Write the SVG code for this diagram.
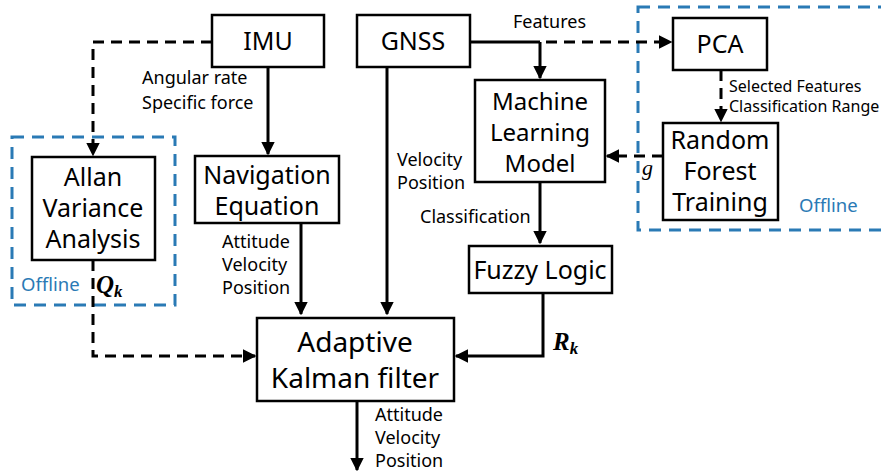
<svg xmlns="http://www.w3.org/2000/svg" width="881" height="473" viewBox="0 0 881 473">
<style>
.box{fill:#fff;stroke:#000;stroke-width:2.5}
.t{font-family:"Noto Sans","Open Sans",sans-serif;font-size:25px;fill:#000;text-anchor:middle}
.l{font-family:"Noto Sans","Open Sans",sans-serif;font-size:18px;fill:#000}
.off{font-family:"Noto Sans","Open Sans",sans-serif;font-size:18.5px;fill:#2a7ab5}
.m{font-family:"Liberation Serif","DejaVu Serif",serif;font-weight:bold;font-style:italic;font-size:25px;fill:#000}
.c{fill:none;stroke:#000;stroke-width:3}
.d{fill:none;stroke:#000;stroke-width:3;stroke-dasharray:11,7}
.b{fill:none;stroke:#2a7ab5;stroke-width:3;stroke-dasharray:12,8}
</style>
<defs>
<marker id="ah" viewBox="0 0 10 10" refX="9" refY="5" markerWidth="4.5" markerHeight="4.5" orient="auto" markerUnits="strokeWidth">
<path d="M0,0 L10,5 L0,10 z" fill="#000"/>
</marker>
</defs>
<rect width="881" height="473" fill="#fff"/>
<g id="offline-regions">
<rect class="b" x="12" y="137" width="163" height="168"/>
<rect class="b" x="638" y="7" width="260" height="223"/>
<text class="off" x="21" y="291">Offline</text>
<text class="off" x="799" y="212">Offline</text>
</g>
<g id="connectors">
<path class="d" d="M212,42 H93 V155" marker-end="url(#ah)"/>
<path class="c" d="M268,67 V154" marker-end="url(#ah)"/>
<path class="c" d="M301,223 V314" marker-end="url(#ah)"/>
<path class="c" d="M387,67 V314" marker-end="url(#ah)"/>
<path class="c" d="M470,42 H540"/>
<path class="c" d="M540,42 V78" marker-end="url(#ah)"/>
<path class="d" d="M546,42 H671" marker-end="url(#ah)"/>
<path class="d" d="M721,70 V121" marker-end="url(#ah)"/>
<path class="d" d="M663,156 H607" marker-end="url(#ah)"/>
<path class="c" d="M540,182 V243" marker-end="url(#ah)"/>
<path class="c" d="M543,293 V356 H456" marker-end="url(#ah)"/>
<path class="d" d="M93,260 V356 H255" marker-end="url(#ah)"/>
<path class="c" d="M357,401 V470" marker-end="url(#ah)"/>
</g>
<g id="imu"><rect class="box" x="212" y="15" width="112" height="52"/><text class="t" x="268" y="50">IMU</text></g>
<g id="gnss"><rect class="box" x="357" y="15" width="113" height="52"/><text class="t" x="413" y="50">GNSS</text></g>
<g id="pca"><rect class="box" x="673" y="18" width="94" height="52"/><text class="t" x="720" y="53">PCA</text></g>
<g id="allan"><rect class="box" x="32" y="157" width="123" height="103"/>
<text class="t" x="93" y="186">Allan</text><text class="t" x="93" y="217">Variance</text><text class="t" x="93" y="248">Analysis</text></g>
<g id="nav"><rect class="box" x="195" y="156" width="144" height="67"/>
<text class="t" x="267" y="184">Navigation</text><text class="t" x="267" y="215">Equation</text></g>
<g id="ml"><rect class="box" x="475" y="80" width="130" height="102"/>
<text class="t" x="540" y="110" style="font-size:24px">Machine</text><text class="t" x="540" y="141" style="font-size:24px">Learning</text><text class="t" x="540" y="172" style="font-size:24px">Model</text></g>
<g id="rf"><rect class="box" x="663" y="123" width="115" height="97"/>
<text class="t" x="720" y="149">Random</text><text class="t" x="720" y="180">Forest</text><text class="t" x="720" y="211">Training</text></g>
<g id="fuzzy"><rect class="box" x="469" y="246" width="143" height="47"/><text class="t" x="540" y="279">Fuzzy Logic</text></g>
<g id="akf"><rect class="box" x="257" y="318" width="197" height="83"/>
<text class="t" x="355" y="352" style="font-size:28px">Adaptive</text><text class="t" x="355" y="388" style="font-size:28px">Kalman filter</text></g>
<g id="labels">
<text class="l" x="142" y="84">Angular rate</text>
<text class="l" x="142" y="109">Specific force</text>
<text class="l" x="222" y="248">Attitude</text>
<text class="l" x="222" y="271">Velocity</text>
<text class="l" x="222" y="294">Position</text>
<text class="l" x="397" y="166">Velocity</text>
<text class="l" x="397" y="189">Position</text>
<text class="l" x="513" y="28">Features</text>
<text class="l" x="729" y="92" style="font-size:16px">Selected Features</text>
<text class="l" x="729" y="112" style="font-size:16px">Classification Range</text>
<text class="l" x="420" y="223">Classification</text>
<text class="l" x="375" y="421">Attitude</text>
<text class="l" x="375" y="444">Velocity</text>
<text class="l" x="375" y="467">Position</text>
<text class="m" x="96" y="293">Q<tspan font-size="17" dy="4">k</tspan></text>
<text class="m" x="553" y="350">R<tspan font-size="17" dy="4">k</tspan></text>
<text x="642" y="175" style="font-family:'Liberation Serif','DejaVu Serif',serif;font-style:italic;font-size:22px">g</text>
</g>
</svg>
